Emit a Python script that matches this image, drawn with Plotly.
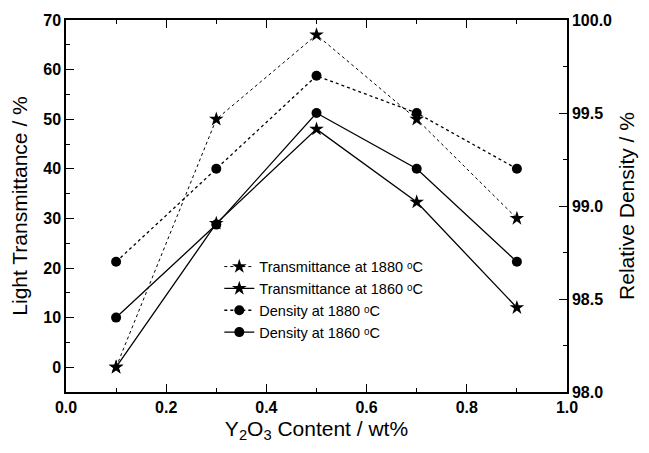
import plotly.graph_objects as go

content = [0.1, 0.3, 0.5, 0.7, 0.9]
trans_1880 = [0, 50, 67, 50, 30]
trans_1860 = [0, 29, 48, 33.3, 12]
dens_1880 = [98.7, 99.2, 99.7, 99.5, 99.2]
dens_1860 = [98.4, 98.9, 99.5, 99.2, 98.7]

FONT = "Liberation Sans, Arial, DejaVu Sans, sans-serif"
DEG = "\u1d52C"

fig = go.Figure()
fig.add_trace(go.Scatter(x=content, y=trans_1880, mode="lines+markers",
                         name="Transmittance at 1880 " + DEG,
                         line=dict(color="black", width=1, dash="dot"),
                         marker=dict(symbol="star", size=11, color="black")))
fig.add_trace(go.Scatter(x=content, y=trans_1860, mode="lines+markers",
                         name="Transmittance at 1860 " + DEG,
                         line=dict(color="black", width=1.3),
                         marker=dict(symbol="star", size=11, color="black")))
fig.add_trace(go.Scatter(x=content, y=dens_1880, mode="lines+markers", yaxis="y2",
                         name="Density at 1880 " + DEG,
                         line=dict(color="black", width=1.3, dash="dot"),
                         marker=dict(symbol="circle", size=10, color="black")))
fig.add_trace(go.Scatter(x=content, y=dens_1860, mode="lines+markers", yaxis="y2",
                         name="Density at 1860 " + DEG,
                         line=dict(color="black", width=1.3),
                         marker=dict(symbol="circle", size=10, color="black")))

tickfont = dict(family=FONT, size=16, color="black", weight="bold")
titlefont = dict(family=FONT, size=21, color="black")

fig.update_layout(
    width=649, height=453,
    margin=dict(l=58, r=90, t=12, b=69),
    paper_bgcolor="white", plot_bgcolor="white",
    showlegend=True,
    legend=dict(x=0.306, y=0.38, xanchor="left", yanchor="top",
                font=dict(family=FONT, size=14.5, color="black"),
                bgcolor="rgba(0,0,0,0)", tracegroupgap=0),
    xaxis=dict(range=[0, 1], tickvals=[0, 0.2, 0.4, 0.6, 0.8, 1.0], tickformat=".1f",
               automargin=False,
               showline=True, linecolor="black", linewidth=1.5, mirror="ticks",
               ticks="inside", ticklen=8, tickwidth=1.2, tickcolor="black",
               minor=dict(ticks="inside", ticklen=4, tickwidth=1, tickcolor="black", dtick=0.1),
               showgrid=False, zeroline=False, tickfont=tickfont,
               title=dict(text="Y<sub>2</sub>O<sub>3</sub> Content / wt%", font=titlefont, standoff=6)),
    yaxis=dict(range=[-5, 70], tickvals=[0, 10, 20, 30, 40, 50, 60, 70],
               automargin=False,
               showline=True, linecolor="black", linewidth=1.5,
               ticks="inside", ticklen=8, tickwidth=1.2, tickcolor="black",
               minor=dict(ticks="inside", ticklen=4, tickwidth=1, tickcolor="black", dtick=5),
               showgrid=False, zeroline=False, tickfont=tickfont,
               title=dict(text="Light Transmittance / %", font=titlefont, standoff=10)),
    yaxis2=dict(range=[98, 100], overlaying="y", side="right",
                tickvals=[98.0, 98.5, 99.0, 99.5, 100.0], tickformat=".1f",
                automargin=False,
                showline=True, linecolor="black", linewidth=1.5,
                ticks="inside", ticklen=8, tickwidth=1.2, tickcolor="black",
                minor=dict(ticks="inside", ticklen=4, tickwidth=1, tickcolor="black", dtick=0.25),
                showgrid=False, zeroline=False, tickfont=tickfont,
                title=dict(text="Relative Density / %", font=titlefont, standoff=8)),
)

fig.write_html("out.html")
